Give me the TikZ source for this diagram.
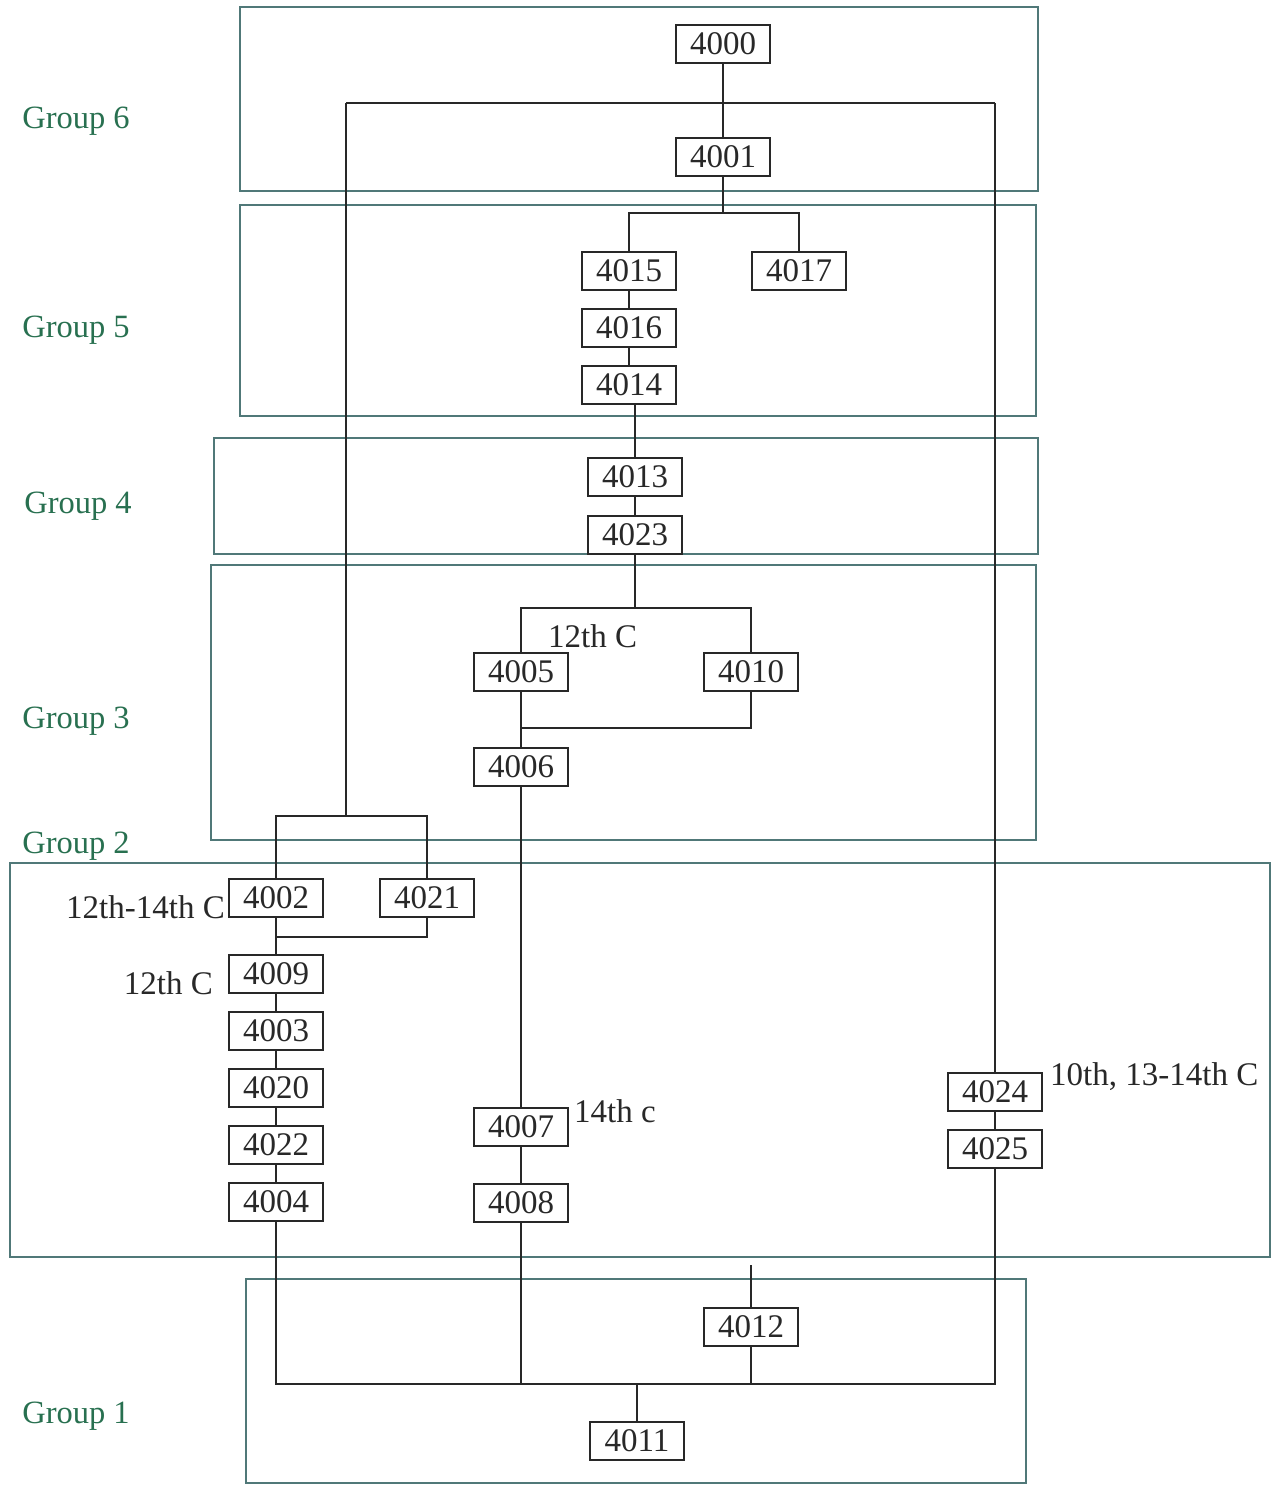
\documentclass[tikz,border=0pt]{standalone}
\usepackage{fontspec}
\setmainfont{Liberation Serif}
\definecolor{grpline}{RGB}{80,120,120}
\definecolor{grptext}{RGB}{40,112,80}
\definecolor{ink}{RGB}{40,40,40}
\begin{document}
\begin{tikzpicture}[x=1pt,y=-1pt,
  nd/.style={draw=ink, line width=1.6pt, minimum width=94pt, minimum height=38pt, inner sep=0pt, font=\fontsize{33}{36}\selectfont, text=ink},
  grp/.style={draw=grpline, line width=1.6pt},
  glabel/.style={font=\fontsize{32.5}{36}\selectfont, text=grptext},
  note/.style={font=\fontsize{33}{36}\selectfont, text=ink, inner sep=0pt},
  conn/.style={draw=ink, line width=1.5pt}]
\useasboundingbox (0,0) rectangle (1271,1485);
% group boxes
\draw[grp] (240,7) rectangle (1038,191);
\draw[grp] (240,205) rectangle (1036,416);
\draw[grp] (214,438) rectangle (1038,554);
\draw[grp] (211,565) rectangle (1036,840);
\draw[grp] (10,863) rectangle (1270,1257);
\draw[grp] (246,1279) rectangle (1026,1483);
% group labels
\node[glabel] (g6) at (76,121) {Group 6};
\node[glabel] (g5) at (76,330) {Group 5};
\node[glabel] (g4) at (78,506) {Group 4};
\node[glabel] (g3) at (76,721) {Group 3};
\node[glabel] (g2) at (76,846) {Group 2};
\node[glabel] (g1) at (76,1416) {Group 1};
% nodes
\node[nd] (n4000) at (723,44) {4000};
\node[nd] (n4001) at (723,157) {4001};
\node[nd] (n4015) at (629,271) {4015};
\node[nd] (n4017) at (799,271) {4017};
\node[nd] (n4016) at (629,328) {4016};
\node[nd] (n4014) at (629,385) {4014};
\node[nd] (n4013) at (635,477) {4013};
\node[nd] (n4023) at (635,535) {4023};
\node[nd] (n4005) at (521,672) {4005};
\node[nd] (n4010) at (751,672) {4010};
\node[nd] (n4006) at (521,767) {4006};
\node[nd] (n4002) at (276,898) {4002};
\node[nd] (n4021) at (427,898) {4021};
\node[nd] (n4009) at (276,974) {4009};
\node[nd] (n4003) at (276,1031) {4003};
\node[nd] (n4020) at (276,1088) {4020};
\node[nd] (n4022) at (276,1145) {4022};
\node[nd] (n4004) at (276,1202) {4004};
\node[nd] (n4007) at (521,1127) {4007};
\node[nd] (n4008) at (521,1203) {4008};
\node[nd] (n4024) at (995,1092) {4024};
\node[nd] (n4025) at (995,1149) {4025};
\node[nd] (n4012) at (751,1327) {4012};
\node[nd] (n4011) at (637,1441) {4011};
% junction coordinates
\coordinate (jL) at (346,103);
\coordinate (jR) at (995,103);
\coordinate (b1) at (723,213);
\coordinate (b2) at (635,608);
\coordinate (m1) at (521,728);
\coordinate (b5) at (346,816);
\coordinate (m2) at (276,937);
\coordinate (bR) at (995,1384);
\coordinate (t12) at (751,1265);
% connectors
\draw[conn] (n4000) -- (n4001);
\draw[conn] (jL) -- (jR);
\draw[conn] (jL) -- (b5);
\draw[conn] (jR) -- (n4024);
\draw[conn] (n4001) -- (b1);
\draw[conn] (n4015) |- (b1) -| (n4017);
\draw[conn] (n4015) -- (n4016) -- (n4014);
\draw[conn] (n4013 |- n4014.south) -- (n4013) -- (n4023) -- (b2);
\draw[conn] (n4005) |- (b2) -| (n4010);
\draw[conn] (n4010) |- (m1);
\draw[conn] (n4005) -- (n4006) -- (n4007) -- (n4008) -- (n4008 |- bR);
\draw[conn] (n4002) |- (b5) -| (n4021);
\draw[conn] (n4021) |- (m2);
\draw[conn] (n4002) -- (n4009) -- (n4003) -- (n4020) -- (n4022) -- (n4004);
\draw[conn] (n4004) |- (bR) -- (n4025);
\draw[conn] (n4024) -- (n4025);
\draw[conn] (t12) -- (n4012) -- (n4012 |- bR);
\draw[conn] (n4011) -- (n4011 |- bR);
% notes
\node[note, anchor=west] (l1) at (548,636) {12th C};
\node[note, anchor=east] (l2) at (225,907) {12th-14th C};
\node[note, anchor=east] (l3) at (213,983) {12th C};
\node[note, anchor=west] (l4) at (574,1111) {14th c};
\node[note, anchor=west] (l5) at (1050,1077) {10th, 13-14th C};
\end{tikzpicture}
\end{document}
